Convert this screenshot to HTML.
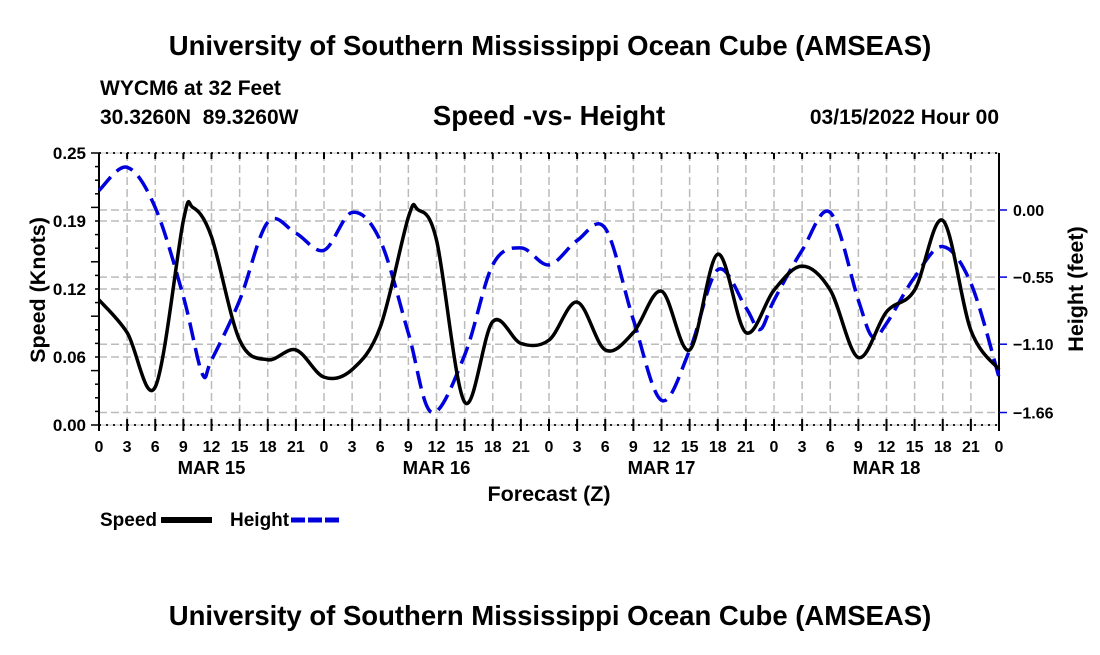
<!DOCTYPE html>
<html><head><meta charset="utf-8"><style>
body{margin:0;background:#fff;width:1100px;height:650px;overflow:hidden}
svg text{font-family:"Liberation Sans",sans-serif;font-weight:bold;white-space:pre}
</style></head><body>
<svg id="c" width="1100" height="650">
<text x="550" y="55" font-size="27.5" text-anchor="middle">University of Southern Mississippi Ocean Cube (AMSEAS)</text>
<text x="100" y="95" font-size="21">WYCM6 at 32 Feet</text>
<text x="100" y="124" font-size="21">30.3260N  89.3260W</text>
<text x="549" y="125" font-size="27.5" text-anchor="middle">Speed -vs- Height</text>
<text x="999" y="124" font-size="21" text-anchor="end">03/15/2022 Hour 00</text>
<text transform="translate(45,290) rotate(-90)" font-size="21.5" text-anchor="middle">Speed (Knots)</text>
<text transform="translate(1083,289) rotate(-90)" font-size="21.5" text-anchor="middle">Height (feet)</text>
<text x="549" y="501" font-size="21.5" text-anchor="middle">Forecast (Z)</text>
<g>
<text x="100" y="526" font-size="19">Speed</text>
<rect x="161" y="517" width="51" height="6" fill="#000"/>
<text x="230" y="526" font-size="19">Height</text>
<line x1="291" y1="520" x2="342" y2="520" stroke="#0000dd" stroke-width="5" stroke-dasharray="14,3"/>
</g>
<text x="550" y="625" font-size="27.5" text-anchor="middle">University of Southern Mississippi Ocean Cube (AMSEAS)</text>
<g id="grid"></g><g id="axes"></g><g id="series"></g>
</svg>
<script>
const hoursS=[0,3,6,9,10,12,15,18,21,24,27,30,33,34,36,39,42,45,48,51,54,57,60,63,66,69,72,75,78,81,84,87,90,93,96];
const speed=[0.115,0.085,0.035,0.188,0.200,0.173,0.078,0.060,0.069,0.044,0.051,0.090,0.191,0.198,0.170,0.021,0.095,0.075,0.078,0.113,0.069,0.085,0.123,0.069,0.157,0.085,0.124,0.146,0.124,0.062,0.104,0.124,0.188,0.087,0.051];
const hoursH=[0,3,6,9,11,12,15,18,21,24,27,30,33,35.5,39,42,45,48,51,54,57,60,63,66,69,70.5,72,75,78,81,82.5,84,87,90,93,96];
const height=[0.16,0.35,0.02,-0.71,-1.34,-1.23,-0.74,-0.10,-0.19,-0.33,-0.02,-0.25,-1.01,-1.66,-1.19,-0.45,-0.31,-0.45,-0.25,-0.15,-0.90,-1.56,-1.15,-0.49,-0.80,-0.98,-0.74,-0.33,-0.02,-0.74,-1.04,-0.93,-0.55,-0.30,-0.60,-1.37];
const leftTicks=["0.00","0.06","0.12","0.19","0.25"];
const rightTickVals=[0,-0.55,-1.10,-1.66];
const rightTickLabels=["0.00","\u22120.55","\u22121.10","\u22121.66"];
const xTickLabels=["0","3","6","9","12","15","18","21"];
const dayLabels=["MAR 15","MAR 16","MAR 17","MAR 18"];

const NS="http://www.w3.org/2000/svg";
const X0=99,X1=999,Y0=425,Y1=153;
const xs=h=>X0+(X1-X0)*h/96;
const ysL=v=>Y0-(Y0-Y1)*v/0.25;
const ysR=v=>210-v*122;
function mk(t,a,p){const e=document.createElementNS(NS,t);for(const k in a)e.setAttribute(k,a[k]);(p||document.getElementById('c')).appendChild(e);return e;}
const grid=document.getElementById('grid'),axes=document.getElementById('axes'),ser=document.getElementById('series');
for(let h=3;h<96;h+=3){const l=mk('line',{x1:xs(h),x2:xs(h),y1:Y1,y2:Y0,stroke:'#bbb','stroke-width':1.5,'stroke-dasharray':'8,4'},grid);

}
for(let i=1;i<4;i++){const l=mk('line',{x1:X0,x2:X1,y1:ysL(i*0.0625),y2:ysL(i*0.0625),stroke:'#bbb','stroke-width':1.5,'stroke-dasharray':'8,4'},grid);

}
rightTickVals.forEach(v=>{const l=mk('line',{x1:X0,x2:X1,y1:ysR(v),y2:ysR(v),stroke:'#bbb','stroke-width':1.5,'stroke-dasharray':'8,4'},grid);

});
const fr=mk('line',{x1:X0,x2:X0,y1:Y1,y2:Y0,stroke:'#000','stroke-width':2},axes);


const fr2=mk('line',{x1:X1,x2:X1,y1:Y1,y2:Y0,stroke:'#000','stroke-width':2},axes);


[Y1,Y0].forEach(y=>{const l=mk('line',{x1:X0,x2:X1,y1:y,y2:y,stroke:'#000','stroke-width':2,'stroke-dasharray':'2,5'},axes);


const l2=mk('line',{x1:X0,x2:X1,y1:y,y2:y,stroke:'#888','stroke-width':0.6},axes);

});
for(let h=0;h<=96;h+=3){const l=mk('line',{x1:xs(h),x2:xs(h),y1:Y0-6,y2:Y0+6,stroke:'#000','stroke-width':2},axes);


const t2=mk('line',{x1:xs(h),x2:xs(h),y1:Y1,y2:Y1+6,stroke:'#000','stroke-width':2},axes);


const t=mk('text',{x:xs(h),y:452,'font-size':16,'text-anchor':'middle'},axes);
t.textContent=xTickLabels[(h/3)%8];

}
dayLabels.forEach((d,i)=>{const t=mk('text',{x:xs(12+24*i),y:474,'font-size':18.5,'text-anchor':'middle'},axes);
t.textContent=d;

});
for(let i=0;i<=20;i++){const y=Y0-(Y0-Y1)*i/20;const l=mk('line',{x1:X0-(i%4==0?8:4),x2:X0,y1:y,y2:y,stroke:'#000','stroke-width':1.5},axes);

}
leftTicks.forEach((s,i)=>{const t=mk('text',{x:86,y:ysL(i*0.0625)+6,'font-size':17,'text-anchor':'end'},axes);
t.textContent=s;

});
rightTickVals.forEach((v,i)=>{const l=mk('line',{x1:X1,x2:X1+8,y1:ysR(v),y2:ysR(v),stroke:'#0000dd','stroke-width':1.5},axes);


const t=mk('text',{x:1013,y:ysR(v)+6,'font-size':16},axes);
t.textContent=rightTickLabels[i];

});
function spline(P){let d=`M${P[0][0]},${P[0][1]}`;for(let i=0;i<P.length-1;i++){const p0=P[i-1]||P[i],p1=P[i],p2=P[i+1],p3=P[i+2]||p2;
const k=1/6;d+=` C${p1[0]+(p2[0]-p0[0])*k},${p1[1]+(p2[1]-p0[1])*k} ${p2[0]-(p3[0]-p1[0])*k},${p2[1]-(p3[1]-p1[1])*k} ${p2[0]},${p2[1]}`;}return d;}
const hp=mk('path',{d:spline(hoursH.map((h,i)=>[xs(h),ysR(height[i])])),fill:'none',stroke:'#0000dd','stroke-width':3.5,'stroke-dasharray':'18,8'},ser);


const sp=mk('path',{d:spline(hoursS.map((h,i)=>[xs(h),ysL(speed[i])])),fill:'none',stroke:'#000','stroke-width':3.5},ser);


</script>
</body></html>
